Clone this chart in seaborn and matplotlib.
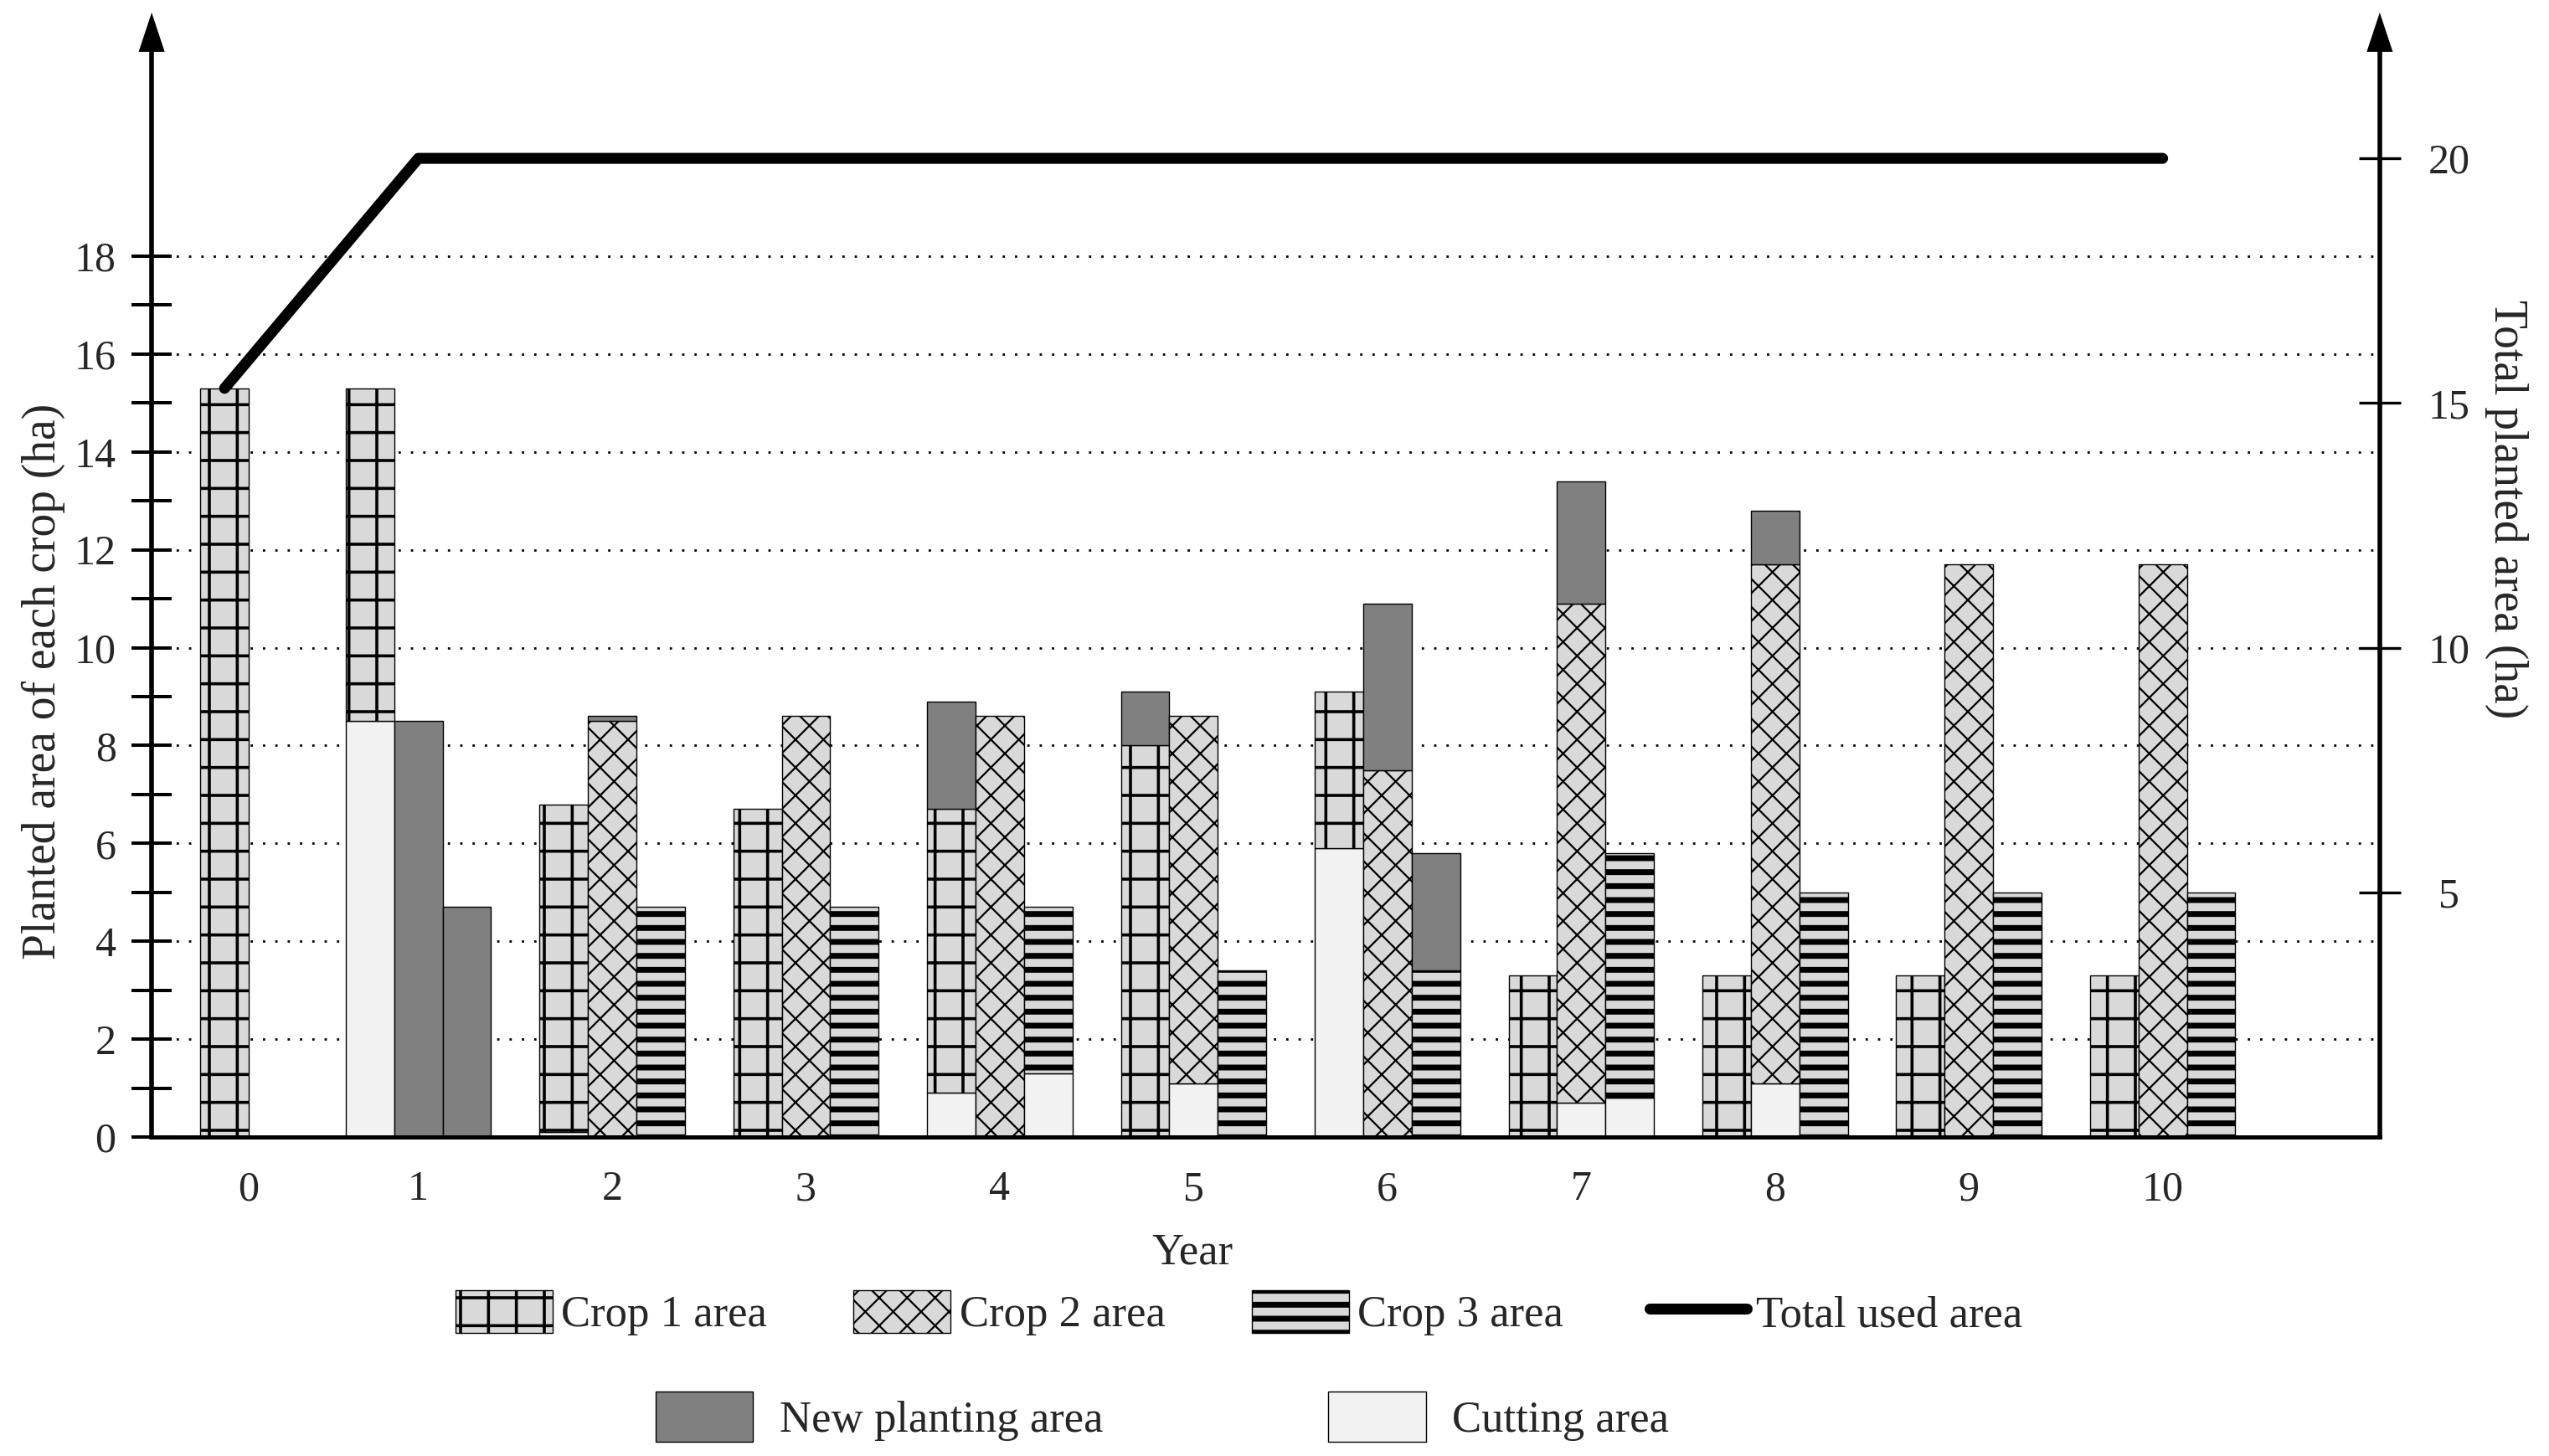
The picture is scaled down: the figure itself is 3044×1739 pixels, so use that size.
import matplotlib.pyplot as plt
from matplotlib.patches import Patch
from matplotlib.lines import Line2D
import seaborn as sns
import numpy as np

# data (ha)
years = np.arange(11)
total_used = [15.3, 20, 20, 20, 20, 20, 20, 20, 20, 20, 20]

# each crop bar is stacked: cutting area (bottom), crop area, new planting area (top)
crop1_cut = [0, 8.5, 0.1, 0, 0.9, 0, 5.9, 0, 0, 0, 0]
crop1_area = [15.3, 6.8, 6.7, 6.7, 5.8, 8.0, 3.2, 3.3, 3.3, 3.3, 3.3]
crop1_new = [0, 0, 0, 0, 2.2, 1.1, 0, 0, 0, 0, 0]

crop2_cut = [0, 0, 0, 0, 0, 1.1, 0, 0.7, 1.1, 0, 0]
crop2_area = [0, 0, 8.5, 8.6, 8.6, 7.5, 7.5, 10.2, 10.6, 11.7, 11.7]
crop2_new = [0, 8.5, 0.1, 0, 0, 0, 3.4, 2.5, 1.1, 0, 0]

crop3_cut = [0, 0, 0, 0, 1.3, 0, 0, 0.8, 0, 0, 0]
crop3_area = [0, 0, 4.7, 4.7, 3.4, 3.4, 3.4, 5.0, 5.0, 5.0, 5.0]
crop3_new = [0, 4.7, 0, 0, 0, 0, 2.4, 0, 0, 0, 0]

crop_labels = ['Crop 1 area', 'Crop 2 area', 'Crop 3 area']

sns.set_theme(style='white')
plt.rcParams['font.family'] = ['Liberation Serif', 'DejaVu Serif']
plt.rcParams['hatch.color'] = 'black'

FILL = '#d9d9d9'
NEW = '#808080'
CUT = '#f2f2f2'
FS = 18
LFS = 19
W = 0.25

crops = [
    (crop1_cut, crop1_area, crop1_new, '+', 1.3),
    (crop2_cut, crop2_area, crop2_new, 'xx', 0.8),
    (crop3_cut, crop3_area, crop3_new, '--', 2.5),
]


def set_hlw(patches, hlw):
    for p in patches:
        if hasattr(p, 'set_hatch_linewidth'):
            p.set_hatch_linewidth(hlw)


def stacked(ax, x, heights, bottoms, color, hatch=None, hlw=1.0):
    heights = np.asarray(heights, float)
    keep = heights > 0
    if not keep.any():
        return
    with plt.rc_context({'hatch.linewidth': hlw}):
        bars = ax.bar(x[keep], heights[keep], W, bottom=np.asarray(bottoms, float)[keep],
                      color=color, edgecolor='black', linewidth=0.5, hatch=hatch, zorder=2)
    set_hlw(bars.patches, hlw)


fig = plt.figure(figsize=(15.22, 8.695), dpi=200)
ax = fig.add_axes([0.0595, 0.2191, 0.8741, 0.7723])

# a year with only crop 1 gets its bar centred
totals2 = np.add(np.add(crop2_cut, crop2_area), crop2_new)
totals3 = np.add(np.add(crop3_cut, crop3_area), crop3_new)
single = (totals2 == 0) & (totals3 == 0)

for i, (cut, area, new, hatch, hlw) in enumerate(crops):
    offset = np.full(len(years), (i - 1) * W)
    if i == 0:
        offset[single] = 0
    x = years + offset
    cut = np.asarray(cut, float)
    area = np.asarray(area, float)
    stacked(ax, x, cut, np.zeros(len(years)), CUT)
    stacked(ax, x, area, cut, FILL, hatch, hlw)
    stacked(ax, x, new, cut + area, NEW)

ymax = 22.98
ax.set_xlim(-0.376, 11.12)
ax.set_ylim(0, ymax)
ax.set_yticks(np.arange(0, 19, 2))
ax.set_yticks(np.arange(1, 18, 2), minor=True)
ax.set_yticklabels([str(v) for v in range(0, 19, 2)], fontsize=FS)
ax.set_xticks(years + np.where(single, W / 2, 0))
ax.set_xticklabels([str(y) for y in years], fontsize=FS)
ax.tick_params(axis='x', length=0, pad=14.4)
ax.tick_params(axis='y', which='both', direction='inout', length=17, width=1.45,
               color='black', pad=6.8, left=True)
ax.yaxis.grid(True, which='major', linestyle=(0, (1, 4.3)), color='black', linewidth=1.0)
ax.xaxis.grid(False)
ax.set_axisbelow(True)

for s in ['top', 'right']:
    ax.spines[s].set_visible(False)
ax.spines['left'].set_linewidth(2)
ax.spines['left'].set_color('black')
ax.spines['left'].set_bounds(0, 22.3)
ax.spines['bottom'].set_linewidth(1.8)
ax.spines['bottom'].set_color('black')

ax.set_xlabel('Year', fontsize=LFS)
ax.xaxis.set_label_coords(0.467, -0.103)
ax.xaxis.label.set_va('center')
ax.set_ylabel('Planted area of each crop (ha)', fontsize=20)
ax.yaxis.set_label_coords(-0.0485, 0.405)
ax.yaxis.label.set_va('center')

# right axis: total planted area
ax2 = ax.twinx()
sns.lineplot(x=years, y=total_used, ax=ax2, color='black', linewidth=4.7, legend=False)
for ln in ax2.get_lines():
    ln.set_solid_capstyle('round')
    ln.set_zorder(5)
ax2.set_ylim(0, ymax)
ax2.set_yticks([5, 10, 15, 20])
ax2.set_yticklabels(['5', '10', '15', '20'], fontsize=FS)
for t in ax2.get_yticklabels():
    t.set_horizontalalignment('center')
ax2.tick_params(axis='y', direction='inout', length=18, width=1.2, color='black',
                pad=20.9, right=True)
for s in ['top', 'left', 'bottom']:
    ax2.spines[s].set_visible(False)
ax2.spines['right'].set_linewidth(2)
ax2.spines['right'].set_color('black')
ax2.spines['right'].set_bounds(0, 22.3)
ax2.set_xlabel('')
ax2.set_ylabel('Total planted area (ha)', fontsize=20, rotation=270)
ax2.yaxis.set_label_coords(1.057, 0.558)
ax2.yaxis.label.set_va('center')

# arrow heads on both vertical axes
for xa in (0, 1):
    ax2.annotate('', xy=(xa, 1), xytext=(xa, 0.95), xycoords='axes fraction',
                 textcoords='axes fraction', annotation_clip=False,
                 arrowprops=dict(arrowstyle='-|>,head_length=1.69,head_width=0.56',
                                 mutation_scale=10, lw=0, fc='black', ec='black',
                                 shrinkA=0, shrinkB=0))

# legends
h1 = [Patch(facecolor=FILL, edgecolor='black', linewidth=0.5, hatch=c[3]) for c in crops]
h1.append(Line2D([], [], color='black', linewidth=4.7, solid_capstyle='round'))
leg1 = fig.legend(h1, crop_labels + ['Total used area'], ncol=4, loc='center',
                  bbox_to_anchor=(0.486, 0.0983), frameon=False, fontsize=LFS,
                  handlelength=2.2, handleheight=1.1, handletextpad=0.2,
                  columnspacing=1.95, borderaxespad=0, borderpad=0)
for p, c in zip(leg1.get_patches(), crops):
    set_hlw([p], c[4])

h2 = [Patch(facecolor=NEW, edgecolor='black', linewidth=0.5),
      Patch(facecolor=CUT, edgecolor='black', linewidth=0.5)]
fig.legend(h2, ['New planting area', 'Cutting area'], ncol=2, loc='center',
           bbox_to_anchor=(0.456, 0.027), frameon=False, fontsize=LFS,
           handlelength=2.2, handleheight=1.35, handletextpad=0.6,
           columnspacing=5.1, borderaxespad=0, borderpad=0)

fig.savefig('out.png', dpi=200, facecolor='white')
